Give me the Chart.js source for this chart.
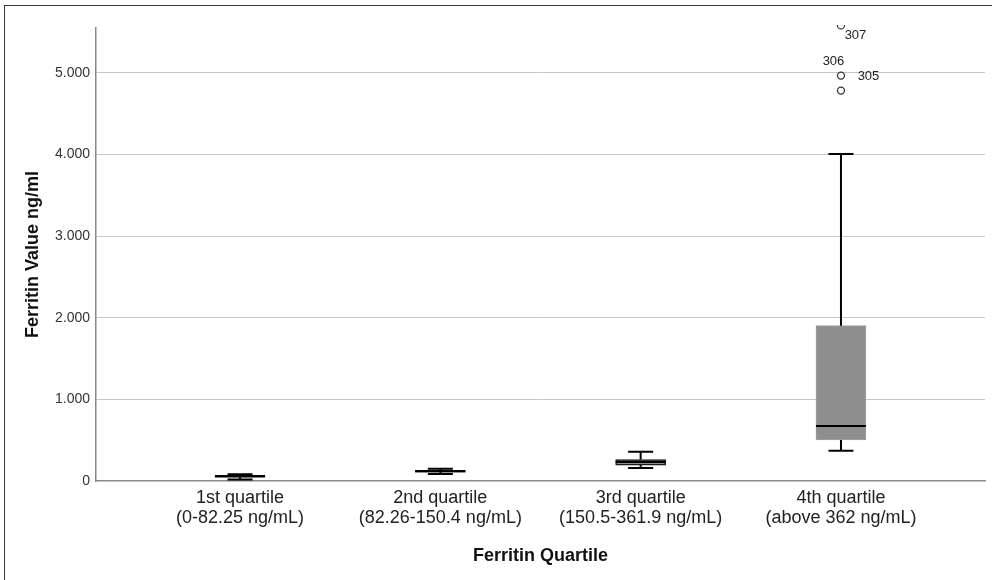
<!DOCTYPE html>
<html>
<head>
<meta charset="utf-8">
<script src="https://cdn.jsdelivr.net/npm/chart.js@4.4.1/dist/chart.umd.min.js"></script>
<style>
  html, body { margin: 0; padding: 0; background: #fff; overflow: hidden; }
  #wrap { position: relative; width: 992px; height: 580px; }
  #frame {
    position: absolute; left: 4px; top: 5px; width: 1100px; height: 700px;
    border: 1px solid #3a3a3a; pointer-events: none;
  }
  canvas { position: absolute; left: 0; top: 0; }
</style>
</head>
<body>
<div id="wrap">
  <canvas id="chart" width="992" height="580"></canvas>
  <div id="frame"></div>
</div>
<script>
// quartile groups (x axis)
const quartileNames = ['1st quartile', '2nd quartile', '3rd quartile', '4th quartile'];
const quartileRanges = ['(0-82.25 ng/mL)', '(82.26-150.4 ng/mL)', '(150.5-361.9 ng/mL)', '(above 362 ng/mL)'];

// box plot statistics per group (ng/ml)
const whiskerLow = [18, 85, 158, 371];
const boxQ1 = [45, 108, 195, 502];
const boxMedian = [60, 118, 232, 674];
const boxQ3 = [70, 132, 262, 1903];
const whiskerHigh = [82, 150, 358, 4007];

// outliers (all in the 4th quartile)
const outlierGroup = [4, 4, 4];
const outlierValues = [4783, 4967, 5582];
const outlierIds = ['305', '306', '307'];

// y axis ticks
const yTicks = [0, 1000, 2000, 3000, 4000, 5000];
const yMax = 5550;

const FONT = '"Liberation Sans", Arial, sans-serif';

const fmtThousands = (v) => String(v).replace(/\B(?=(\d{3})+(?!\d))/g, '.');

// whiskers, caps and medians on top of the floating bars
const boxPlotPlugin = {
  id: 'boxPlot',
  afterDatasetsDraw(chart) {
    const { ctx, scales: { x, y } } = chart;
    const capHalf = 12.5;
    const boxHalf = 25;
    ctx.save();
    ctx.strokeStyle = '#000';
    ctx.lineWidth = 2;
    ctx.lineCap = 'butt';
    quartileNames.forEach((name, i) => {
      const cx = x.getPixelForValue(i + 1);
      const lo = y.getPixelForValue(whiskerLow[i]);
      const q1 = y.getPixelForValue(boxQ1[i]);
      const q3 = y.getPixelForValue(boxQ3[i]);
      const hi = y.getPixelForValue(whiskerHigh[i]);
      const md = y.getPixelForValue(boxMedian[i]);
      ctx.beginPath();
      ctx.moveTo(cx, q3); ctx.lineTo(cx, hi);
      ctx.moveTo(cx, q1); ctx.lineTo(cx, lo);
      ctx.moveTo(cx - capHalf, hi); ctx.lineTo(cx + capHalf, hi);
      ctx.moveTo(cx - capHalf, lo); ctx.lineTo(cx + capHalf, lo);
      ctx.moveTo(cx - boxHalf, md); ctx.lineTo(cx + boxHalf, md);
      ctx.stroke();
    });

    // outlier case numbers
    const nudge = [[27.5, -14], [-7.5, -14], [14.5, 10]];
    ctx.fillStyle = '#222';
    ctx.font = '13px ' + FONT;
    ctx.textAlign = 'center';
    ctx.textBaseline = 'middle';
    outlierIds.forEach((id, i) => {
      const px = x.getPixelForValue(outlierGroup[i]);
      const py = y.getPixelForValue(outlierValues[i]);
      ctx.fillText(id, px + nudge[i][0], py + nudge[i][1]);
    });
    ctx.restore();
  }
};

const ctx = document.getElementById('chart').getContext('2d');
const chart = new Chart(ctx, {
  type: 'bar',
  data: {
    datasets: [
      {
        type: 'bar',
        data: quartileNames.map((n, i) => ({ x: i + 1, y: [boxQ1[i], boxQ3[i]] })),
        backgroundColor: '#8e8e8e',
        // the squashed boxes read as solid black in the original
        borderColor: ['#1a1a1a', '#1a1a1a', '#1a1a1a', '#a0a0a0'],
        borderWidth: [1.5, 1.5, 1.5, 1],
        borderSkipped: false,
        barThickness: 50,
      },
      {
        type: 'scatter',
        data: outlierValues.map((v, i) => ({ x: outlierGroup[i], y: v })),
        pointStyle: 'circle',
        pointRadius: 3.5,
        pointBorderWidth: 1.3,
        pointBorderColor: '#333',
        pointBackgroundColor: '#fff',
        clip: { left: 0, top: 3, right: 0, bottom: 0 },
      },
    ],
  },
  options: {
    responsive: false,
    animation: false,
    devicePixelRatio: 1,
    layout: { padding: { top: 28, right: 7, bottom: 0, left: 0 } },
    plugins: {
      legend: { display: false },
      tooltip: { enabled: false },
    },
    scales: {
      x: {
        type: 'linear',
        min: 0.281,
        max: 4.719,
        offset: false,
        afterBuildTicks: (scale) => {
          scale.ticks = quartileNames.map((n, i) => ({ value: i + 1 }));
        },
        afterFit: (scale) => { scale.height = 99; },
        grid: { display: true, offset: false, color: 'rgba(0,0,0,0)', drawTicks: false },
        border: { display: true, color: '#8a8a8a', width: 1.5 },
        ticks: {
          autoSkip: false,
          maxRotation: 0,
          padding: 7.5,
          color: '#222',
          font: { family: FONT, size: 18, lineHeight: '20px' },
          callback: (value) => [quartileNames[value - 1], quartileRanges[value - 1]],
        },
        title: {
          display: true,
          text: 'Ferritin Quartile',
          color: '#111',
          font: { family: FONT, size: 18, weight: 'bold' },
          padding: { top: 0, bottom: 13 },
        },
      },
      y: {
        min: 0,
        max: yMax,
        afterBuildTicks: (scale) => {
          scale.ticks = yTicks.map((v) => ({ value: v }));
        },
        afterFit: (scale) => { scale.width = 96; },
        grid: {
          color: (c) => (c.tick && c.tick.value === 0 ? 'rgba(0,0,0,0)' : '#c6c6c6'),
          lineWidth: 1,
          drawTicks: false,
        },
        border: { display: true, color: '#8a8a8a', width: 1.5 },
        ticks: {
          padding: 6,
          color: '#333',
          font: { family: FONT, size: 14 },
          callback: (value) => fmtThousands(value),
        },
        title: {
          display: true,
          text: 'Ferritin Value ng/ml',
          color: '#111',
          font: { family: FONT, size: 18, weight: 'bold' },
          padding: { top: 22.7, bottom: 0 },
        },
      },
    },
  },
  plugins: [boxPlotPlugin],
});
</script>
</body>
</html>
